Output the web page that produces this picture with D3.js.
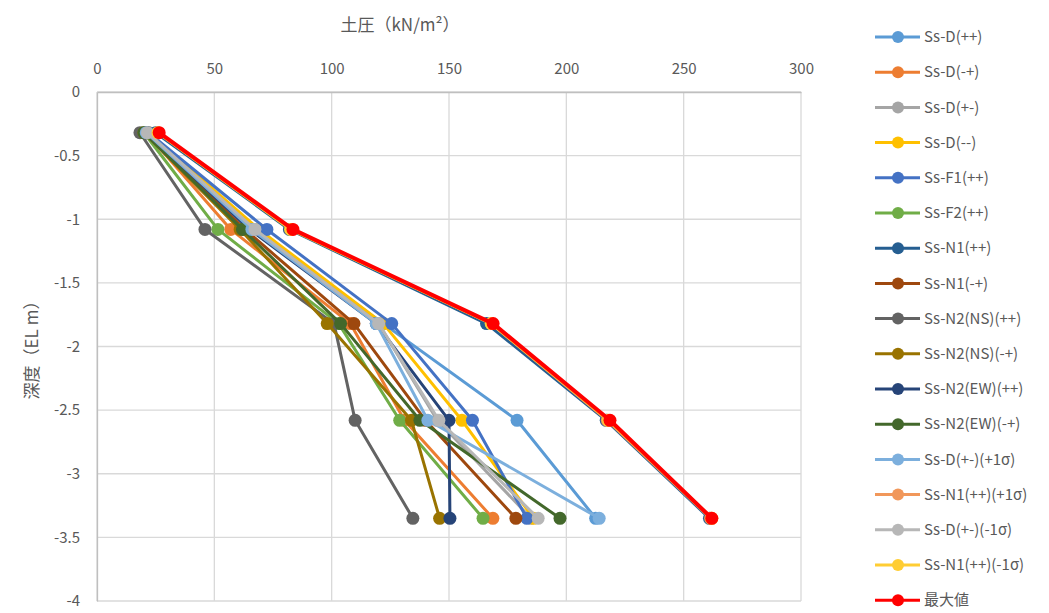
<!DOCTYPE html>
<html><head><meta charset="utf-8">
<script src="https://cdn.jsdelivr.net/npm/d3@7"></script>
<style>
body{margin:0;background:#fff;}
text{font-family:"Noto Sans CJK JP","Noto Sans",sans-serif;}
</style></head>
<body><svg id="c" width="1049" height="613"></svg>
<script>
const depths = [-0.32, -1.08, -1.82, -2.58, -3.35];
const seriesNames = ["Ss-D(++)","Ss-D(-+)","Ss-D(+-)","Ss-D(--)","Ss-F1(++)","Ss-F2(++)","Ss-N1(++)","Ss-N1(-+)","Ss-N2(NS)(++)","Ss-N2(NS)(-+)","Ss-N2(EW)(++)","Ss-N2(EW)(-+)","Ss-D(+-)(+1σ)","Ss-N1(++)(+1σ)","Ss-D(+-)(-1σ)","Ss-N1(++)(-1σ)","最大値"];
const colors = ["#5B9BD5","#ED7D31","#A5A5A5","#FFC000","#4472C4","#70AD47","#255E91","#9E480E","#636363","#997300","#264478","#43682B","#7CAFDD","#F1975A","#B7B7B7","#FFCD33","#FF0000"];
const sD_pp   = [21, 67, 122, 179, 212.5];
const sD_mp   = [21, 57, 108, 131, 168.7];
const sD_pm   = [21, 67, 120, 145, 185];
const sD_mm   = [22, 69, 122, 155.5, 186];
const sF1_pp  = [22, 72.4, 125.6, 160, 183.2];
const sF2_pp  = [20, 51.5, 103, 129, 164.5];
const sN1_pp  = [25, 82, 166, 217, 261];
const sN1_mp  = [21, 63, 109.5, 140, 178.5];
const sN2NS_pp= [18.3, 46, 101, 110, 134.6];
const sN2NS_mp= [20, 61, 98.1, 134, 146];
const sN2EW_pp= [21, 65, 119, 150, 150.4];
const sN2EW_mp= [20, 62, 103.8, 137.6, 197.3];
const sDpm_p1 = [21, 66, 119, 141, 214];
const sN1pp_p1= [26, 83, 168, 217.5, 261.5];
const sDpm_m1 = [21.5, 67.3, 120, 145.7, 188];
const sN1pp_m1= [26, 82.5, 168, 218, 262];
const sMax    = [26.5, 83.5, 168.8, 218.6, 262];
const seriesValues = [sD_pp,sD_mp,sD_pm,sD_mm,sF1_pp,sF2_pp,sN1_pp,sN1_mp,sN2NS_pp,sN2NS_mp,sN2EW_pp,sN2EW_mp,sDpm_p1,sN1pp_p1,sDpm_m1,sN1pp_m1,sMax];
const xTicks = [0,50,100,150,200,250,300];
const yTicks = [0,-0.5,-1,-1.5,-2,-2.5,-3,-3.5,-4];
const xTitle = "土圧（kN/m²）";
const yTitle = "深度（EL m）";

const svg = d3.select("#c");
const L=97, R=801, T=92, B=601;
const x = d3.scaleLinear().domain([0,300]).range([L,R]);
const y = d3.scaleLinear().domain([0,-4]).range([T,B]);

// gridlines
svg.append("g").selectAll("line").data(xTicks).join("line")
  .attr("x1",d=>x(d)).attr("x2",d=>x(d)).attr("y1",T).attr("y2",B)
  .attr("stroke","#D9D9D9").attr("stroke-width",1.3);
svg.append("g").selectAll("line").data(yTicks).join("line")
  .attr("x1",L).attr("x2",R).attr("y1",d=>y(d)).attr("y2",d=>y(d))
  .attr("stroke","#D9D9D9").attr("stroke-width",1.3);

// axes
const xa = svg.append("g").attr("transform",`translate(0,${T})`)
  .call(d3.axisTop(x).tickValues(xTicks).tickSize(0).tickPadding(18).tickFormat(d=>String(d)));
xa.select(".domain").attr("stroke","#BFBFBF").attr("stroke-width",1.3);
xa.selectAll("text").attr("fill","#595959").style("font-size","15px");
const ya = svg.append("g").attr("transform",`translate(${L},0)`)
  .call(d3.axisLeft(y).tickValues(yTicks).tickSize(0).tickPadding(17).tickFormat(d=>String(d)));
ya.select(".domain").attr("stroke","#BFBFBF").attr("stroke-width",1.3);
ya.selectAll("text").attr("fill","#595959").style("font-size","15px");

svg.append("text").attr("x",400).attr("y",31).attr("text-anchor","middle")
  .attr("fill","#595959").style("font-size","17px").text(xTitle);
svg.append("text").attr("transform",`translate(38,346) rotate(-90)`).attr("text-anchor","middle")
  .attr("fill","#595959").style("font-size","17px").text(yTitle);

const line = d3.line().x(d=>x(d[0])).y(d=>y(d[1]));
seriesValues.forEach((vals,i)=>{
  const pts = vals.map((v,j)=>[v,depths[j]]);
  const g = svg.append("g");
  g.append("path").attr("d",line(pts)).attr("fill","none")
    .attr("stroke",colors[i]).attr("stroke-width",i===16?4:3).attr("stroke-linejoin","round");
  g.selectAll("circle").data(pts).join("circle")
    .attr("cx",d=>x(d[0])).attr("cy",d=>y(d[1])).attr("r",6.5).attr("fill",colors[i]);
});

// legend
const lg = svg.append("g");
seriesNames.forEach((n,i)=>{
  const yy = 37 + i*35.2;
  lg.append("line").attr("x1",875).attr("x2",920).attr("y1",yy).attr("y2",yy)
    .attr("stroke",colors[i]).attr("stroke-width",3);
  lg.append("circle").attr("cx",898).attr("cy",yy).attr("r",6).attr("fill",colors[i]);
  lg.append("text").attr("x",924).attr("y",yy).attr("dy","0.35em")
    .attr("fill","#595959").style("font-size","15px").text(n);
});
</script></body></html>
